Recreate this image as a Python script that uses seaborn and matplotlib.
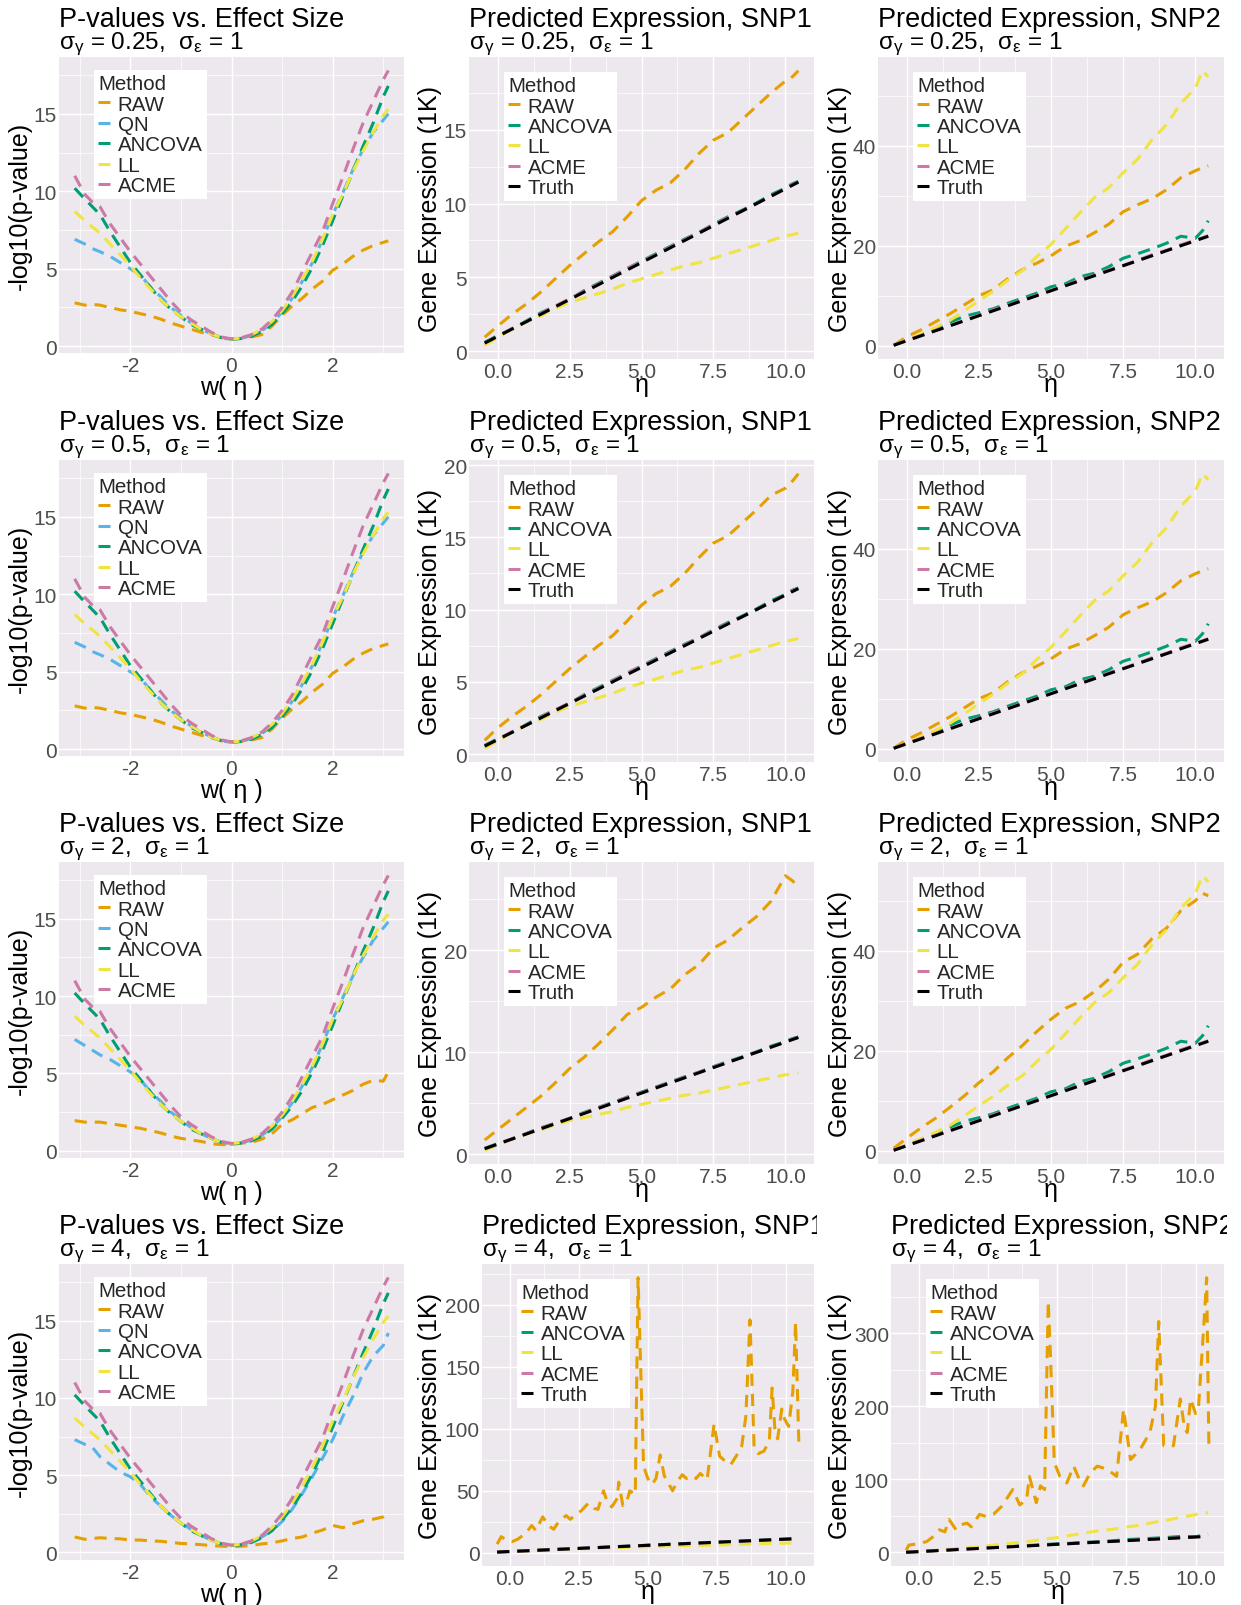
import numpy as np
import pandas as pd
import matplotlib
matplotlib.use("Agg")
import matplotlib.pyplot as plt
import seaborn as sns
from matplotlib.lines import Line2D
from matplotlib.ticker import FixedLocator, AutoMinorLocator, FixedFormatter
from matplotlib.transforms import Bbox, TransformedBbox

# ---------------------------------------------------------------- data
# effect-size grid for the p-value panels
W = [-3.1, -2.9, -2.75, -2.6, -2.4, -2.2, -2.0, -1.8, -1.6, -1.4, -1.2, -1.0,
     -0.8, -0.6, -0.4, -0.2, 0.0, 0.2, 0.4, 0.6, 0.8, 1.0, 1.2, 1.4, 1.6, 1.8,
     2.0, 2.2, 2.4, 2.6, 2.8, 3.0, 3.1]

ACME_P = [11.0, 9.8, 9.3, 9.0, 7.9, 7.0, 6.1, 5.3, 4.5, 3.7, 2.9, 2.2, 1.7, 1.3,
          0.9, 0.6, 0.47, 0.55, 0.75, 1.1, 1.7, 2.5, 3.5, 4.8, 6.1, 7.4, 9.2,
          10.9, 12.7, 14.4, 15.8, 17.2, 17.8]
ANCOVA_P = [10.2, 9.5, 9.0, 8.5, 7.4, 6.4, 5.4, 4.6, 3.8, 3.0, 2.4, 1.9, 1.4,
            1.1, 0.8, 0.55, 0.45, 0.5, 0.65, 0.95, 1.4, 2.1, 2.9, 3.9, 5.1, 6.5,
            8.1, 9.7, 11.3, 12.9, 14.4, 16.1, 16.8]
LL_P = [8.7, 8.1, 7.7, 7.3, 6.6, 5.9, 5.2, 4.4, 3.7, 3.0, 2.4, 1.9, 1.5, 1.1,
        0.8, 0.55, 0.45, 0.55, 0.75, 1.1, 1.6, 2.3, 3.2, 4.3, 5.5, 6.9, 8.5,
        9.8, 11.3, 12.6, 13.8, 14.9, 15.3]
QN_P1 = [6.9, 6.6, 6.3, 6.1, 5.8, 5.4, 5.0, 4.6, 3.8, 3.2, 2.5, 2.0, 1.5, 1.1,
         0.8, 0.55, 0.43, 0.5, 0.7, 1.0, 1.5, 2.2, 3.1, 4.2, 5.4, 6.9, 8.5,
         9.9, 11.4, 12.7, 13.8, 14.6, 15.0]
QN_P3 = [7.2, 6.8, 6.5, 6.2, 5.9, 5.5, 5.1, 4.6, 3.8, 3.2, 2.5, 2.0, 1.5, 1.1,
         0.8, 0.55, 0.43, 0.5, 0.7, 1.0, 1.5, 2.2, 3.1, 4.2, 5.4, 6.9, 8.5,
         9.9, 11.3, 12.5, 13.6, 14.4, 14.8]
QN_P4 = [7.3, 7.0, 6.8, 6.2, 5.7, 5.2, 4.9, 4.4, 3.6, 3.0, 2.4, 1.9, 1.5, 1.1,
         0.8, 0.55, 0.43, 0.5, 0.7, 1.0, 1.4, 2.0, 2.8, 3.8, 4.9, 6.1, 7.3,
         8.8, 10.1, 11.6, 12.7, 13.4, 14.2]
RAW_P1 = [2.8, 2.65, 2.7, 2.65, 2.5, 2.35, 2.25, 2.1, 1.95, 1.75, 1.5, 1.3,
          1.1, 0.9, 0.75, 0.55, 0.47, 0.5, 0.6, 0.75, 1.3, 2.0, 2.6, 3.1, 3.7,
          4.2, 4.9, 5.3, 5.8, 6.2, 6.5, 6.7, 6.8]
RAW_P3 = [1.95, 1.85, 1.85, 1.85, 1.75, 1.65, 1.55, 1.45, 1.3, 1.15, 0.95, 0.8,
          0.7, 0.6, 0.45, 0.4, 0.4, 0.5, 0.55, 0.75, 1.1, 1.7, 2.0, 2.4, 2.8,
          3.0, 3.3, 3.6, 3.9, 4.3, 4.55, 4.5, 5.1]
RAW_P4 = [1.0, 0.85, 0.9, 0.95, 0.9, 0.88, 0.8, 0.8, 0.75, 0.72, 0.65, 0.58,
          0.55, 0.5, 0.45, 0.4, 0.38, 0.4, 0.45, 0.55, 0.62, 0.75, 0.9, 1.0,
          1.25, 1.45, 1.75, 1.6, 1.85, 2.05, 2.15, 2.3, 2.5]

# eta grid for the predicted-expression panels
ETA = [-0.45, 0.0, 0.5, 1.0, 1.5, 2.0, 2.5, 3.0, 3.5, 4.0, 4.5, 5.0, 5.5, 6.0,
       6.5, 7.0, 7.5, 8.0, 8.5, 9.0, 9.5, 10.0, 10.25, 10.45]

# SNP1
TRUTH_1 = [0.55, 1.0, 1.5, 2.0, 2.5, 3.0, 3.5, 4.0, 4.5, 5.0, 5.5, 6.0, 6.5,
           7.0, 7.5, 8.0, 8.5, 9.0, 9.5, 10.0, 10.5, 11.0, 11.25, 11.45]
ANCOVA_1 = [0.6, 1.05, 1.5, 2.05, 2.6, 3.05, 3.5, 4.1, 4.6, 5.1, 5.6, 6.1, 6.6,
            7.1, 7.6, 8.05, 8.6, 9.1, 9.55, 10.05, 10.6, 11.05, 11.35, 11.5]
ACME_1 = [0.55, 1.0, 1.55, 2.0, 2.55, 3.05, 3.55, 4.05, 4.55, 5.05, 5.6, 6.05,
          6.55, 7.05, 7.55, 8.05, 8.55, 9.05, 9.5, 10.0, 10.5, 11.0, 11.3, 11.45]
LL_1 = [0.4, 0.9, 1.5, 2.0, 2.4, 2.9, 3.3, 3.6, 3.9, 4.2, 4.6, 4.9, 5.2, 5.5,
        5.8, 6.0, 6.3, 6.6, 6.9, 7.2, 7.5, 7.8, 7.9, 8.0]
RAW_1_A = [0.95, 1.7, 2.5, 3.2, 4.0, 4.9, 5.8, 6.6, 7.4, 8.1, 9.1, 10.2, 10.9,
           11.4, 12.3, 13.4, 14.3, 14.8, 15.7, 16.6, 17.5, 18.3, 18.6, 19.0]
RAW_1_B = [0.95, 1.8, 2.6, 3.3, 4.1, 5.0, 5.9, 6.7, 7.5, 8.2, 9.2, 10.3, 11.1,
           11.6, 12.5, 13.6, 14.6, 15.1, 16.0, 16.9, 17.9, 18.4, 18.9, 19.4]
RAW_1_C = [1.4, 2.4, 3.5, 4.6, 5.7, 7.0, 8.4, 9.5, 10.8, 12.2, 13.7, 14.4, 15.4,
           16.2, 17.6, 18.6, 20.2, 21.0, 22.2, 23.3, 24.8, 27.3, 26.8, 26.2]
RAW4_ETA1 = [-0.45, -0.3, -0.1, 0.1, 0.3, 0.6, 0.8, 0.95, 1.2, 1.4, 1.6, 1.8,
             2.05, 2.2, 2.4, 2.6, 2.85, 3.05, 3.2, 3.4, 3.55, 3.7, 3.9, 3.95,
             4.1, 4.25, 4.35, 4.55, 4.65, 4.85, 5.0, 5.15, 5.3, 5.45, 5.6, 5.75,
             5.9, 6.05, 6.25, 6.4, 6.6, 6.75, 6.9, 7.05, 7.15, 7.4, 7.6, 7.8,
             8.0, 8.2, 8.4, 8.55, 8.7, 8.85, 9.0, 9.2, 9.4, 9.5, 9.6, 9.7, 9.85,
             9.95, 10.1, 10.25, 10.35, 10.47]
RAW4_1 = [7, 13, 10, 9, 11, 16, 22, 18, 29, 22, 19, 26, 30, 27, 31, 34, 40, 36,
          35, 50, 40, 37, 44, 57, 38, 42, 50, 47, 222, 70, 60, 55, 60, 79, 62,
          56, 50, 57, 63, 60, 62, 60, 64, 61, 59, 104, 78, 74, 71, 78, 86, 110,
          188, 84, 80, 82, 90, 133, 100, 92, 116, 108, 102, 130, 186, 86]

# SNP2
TRUTH_2 = [0.1, 1.0, 2.0, 3.0, 4.0, 5.0, 6.0, 7.0, 8.0, 9.0, 10.0, 11.0, 12.0,
           13.0, 14.0, 15.0, 16.0, 17.0, 18.0, 19.0, 20.0, 21.0, 21.5, 21.9]
ACME_2 = [0.1, 1.1, 2.1, 3.1, 4.1, 5.1, 6.1, 7.2, 8.1, 9.1, 10.1, 11.1, 12.1,
          13.2, 14.1, 15.2, 16.1, 17.1, 18.2, 19.1, 20.2, 21.1, 21.6, 22.0]
ANCOVA_2 = [0.1, 1.1, 2.2, 3.3, 4.7, 5.9, 6.6, 7.4, 8.5, 9.5, 10.5, 11.8, 12.4,
            13.8, 14.5, 15.8, 17.5, 18.4, 19.4, 20.5, 21.9, 21.5, 23.0, 25.0]
LL_2 = [0.1, 1.2, 2.4, 3.7, 5.1, 7.0, 9.0, 10.9, 13.1, 15.0, 17.8, 20.3, 23.4,
        26.6, 29.6, 31.6, 34.6, 37.3, 41.2, 44.2, 48.5, 51.5, 55.0, 53.8]
RAW_2_A = [0.1, 1.8, 3.2, 4.8, 6.4, 8.2, 10.0, 11.2, 13.4, 15.2, 16.5, 18.0,
           19.9, 21.0, 22.6, 24.3, 26.8, 28.2, 29.4, 31.2, 33.6, 35.0, 35.6, 36.0]
RAW_2_C = [0.5, 2.5, 4.6, 6.5, 8.7, 11.0, 13.6, 15.8, 18.6, 21.0, 23.8, 26.3,
           28.5, 29.8, 31.8, 34.3, 37.7, 39.3, 42.4, 44.5, 48.0, 50.0, 51.5, 51.0]
RAW4_ETA2 = [-0.45, -0.35, 0.05, 0.3, 0.55, 0.75, 0.95, 1.1, 1.35, 1.55, 1.75,
             1.9, 2.2, 2.45, 2.7, 3.0, 3.4, 3.65, 3.9, 4.0, 4.25, 4.4, 4.55,
             4.68, 4.75, 4.9, 5.1, 5.35, 5.6, 5.8, 5.95, 6.2, 6.45, 6.8, 7.15,
             7.4, 7.65, 8.0, 8.35, 8.55, 8.67, 8.85, 9.2, 9.45, 9.6, 9.7, 9.82,
             10.0, 10.1, 10.3, 10.4, 10.48]
RAW4_2 = [3, 10, 12, 15, 22, 31, 28, 45, 31, 38, 40, 35, 52, 49, 52, 63, 86, 65,
          72, 104, 68, 91, 86, 344, 280, 123, 104, 95, 118, 100, 91, 109, 118,
          114, 104, 196, 127, 141, 164, 200, 316, 146, 146, 210, 170, 164, 210,
          190, 195, 312, 376, 146]

SIGMA_GAMMA = ["0.25", "0.5", "2", "4"]
SIGMA_EPS = "1"
TITLES = ["P-values vs. Effect Size", "Predicted Expression, SNP1",
          "Predicted Expression, SNP2"]
XLABELS = ["w( η )", "η", "η"]
YLABELS = ["-log10(p-value)", "Gene Expression (1K)", "Gene Expression (1K)"]

METHODS_P = ["RAW", "QN", "ANCOVA", "LL", "ACME"]
METHODS_E = ["RAW", "ANCOVA", "LL", "ACME", "Truth"]
COLORS = {"RAW": "#E69F00", "QN": "#56B4E9", "ANCOVA": "#009E73",
          "LL": "#F0E442", "ACME": "#CC79A7", "Truth": "#000000"}

# series for each panel: (row, col) -> {method: (x, y)}
PANELS = {
    (0, 0): {"RAW": (W, RAW_P1), "QN": (W, QN_P1), "ANCOVA": (W, ANCOVA_P),
             "LL": (W, LL_P), "ACME": (W, ACME_P)},
    (1, 0): {"RAW": (W, RAW_P1), "QN": (W, QN_P1), "ANCOVA": (W, ANCOVA_P),
             "LL": (W, LL_P), "ACME": (W, ACME_P)},
    (2, 0): {"RAW": (W, RAW_P3), "QN": (W, QN_P3), "ANCOVA": (W, ANCOVA_P),
             "LL": (W, LL_P), "ACME": (W, ACME_P)},
    (3, 0): {"RAW": (W, RAW_P4), "QN": (W, QN_P4), "ANCOVA": (W, ANCOVA_P),
             "LL": (W, LL_P), "ACME": (W, ACME_P)},
    (0, 1): {"RAW": (ETA, RAW_1_A), "ANCOVA": (ETA, ANCOVA_1), "LL": (ETA, LL_1),
             "ACME": (ETA, ACME_1), "Truth": (ETA, TRUTH_1)},
    (1, 1): {"RAW": (ETA, RAW_1_B), "ANCOVA": (ETA, ANCOVA_1), "LL": (ETA, LL_1),
             "ACME": (ETA, ACME_1), "Truth": (ETA, TRUTH_1)},
    (2, 1): {"RAW": (ETA, RAW_1_C), "ANCOVA": (ETA, ANCOVA_1), "LL": (ETA, LL_1),
             "ACME": (ETA, ACME_1), "Truth": (ETA, TRUTH_1)},
    (3, 1): {"RAW": (RAW4_ETA1, RAW4_1), "ANCOVA": (ETA, ANCOVA_1),
             "LL": (ETA, LL_1), "ACME": (ETA, ACME_1), "Truth": (ETA, TRUTH_1)},
    (0, 2): {"RAW": (ETA, RAW_2_A), "ANCOVA": (ETA, ANCOVA_2), "LL": (ETA, LL_2),
             "ACME": (ETA, ACME_2), "Truth": (ETA, TRUTH_2)},
    (1, 2): {"RAW": (ETA, RAW_2_A), "ANCOVA": (ETA, ANCOVA_2), "LL": (ETA, LL_2),
             "ACME": (ETA, ACME_2), "Truth": (ETA, TRUTH_2)},
    (2, 2): {"RAW": (ETA, RAW_2_C), "ANCOVA": (ETA, ANCOVA_2), "LL": (ETA, LL_2),
             "ACME": (ETA, ACME_2), "Truth": (ETA, TRUTH_2)},
    (3, 2): {"RAW": (RAW4_ETA2, RAW4_2), "ANCOVA": (ETA, ANCOVA_2),
             "LL": (ETA, LL_2), "ACME": (ETA, ACME_2), "Truth": (ETA, TRUTH_2)},
}

Y_TICKS = {
    (0, 1): [0, 5, 10, 15], (1, 1): [0, 5, 10, 15, 20], (2, 1): [0, 10, 20],
    (3, 1): [0, 50, 100, 150, 200],
    (0, 2): [0, 20, 40], (1, 2): [0, 20, 40], (2, 2): [0, 20, 40],
    (3, 2): [0, 100, 200, 300],
}

# ---------------------------------------------------------------- style
sns.set_theme(style="darkgrid")
plt.rcParams["font.family"] = ["Liberation Sans", "DejaVu Sans"]
plt.rcParams["mathtext.fontset"] = "custom"
plt.rcParams["mathtext.rm"] = "Liberation Sans"
plt.rcParams["mathtext.it"] = "Liberation Sans:italic"
plt.rcParams["mathtext.bf"] = "Liberation Sans:bold"

PANEL_BG = "#EDE8ED"
TICK_COLOR = "#4D4D4D"
LW = 2.2
DASH = (4.0, 2.6)

FW, FH = 1241, 1606
ROW_TOP = [58, 461, 863, 1265]
CELL_LEFT = [0, 410, 820]
COL_LEFT = [[59] * 4, [469, 469, 469, 482], [878, 878, 878, 891]]
COL_RIGHT = [404, 814, 1224]
PANEL_H = [296, 302, 302]
XLAB_OFF = [41, 32, 32]

fig = plt.figure(figsize=(FW / 100, FH / 100), dpi=100)


def frac_rect(l, t, r, b):
    return [l / FW, 1 - b / FH, (r - l) / FW, (b - t) / FH]


for (row, col), series in PANELS.items():
    left = COL_LEFT[col][row]
    right = COL_RIGHT[col]
    top = ROW_TOP[row]
    bottom = top + PANEL_H[col]
    pw, ph = right - left, bottom - top
    ax = fig.add_axes(frac_rect(left, top, right, bottom))
    methods = METHODS_P if col == 0 else METHODS_E

    df = pd.concat([pd.DataFrame({"x": series[m][0], "y": series[m][1],
                                  "Method": m}) for m in methods],
                   ignore_index=True)
    sns.lineplot(data=df, x="x", y="y", hue="Method", style="Method",
                 hue_order=methods, style_order=methods, palette=COLORS,
                 dashes={m: DASH for m in methods}, estimator=None,
                 errorbar=None, linewidth=LW, legend=False, ax=ax)

    # ggplot-like 5% expansion
    xmin, xmax = df["x"].min(), df["x"].max()
    ymin, ymax = df["y"].min(), df["y"].max()
    ax.set_xlim(xmin - 0.05 * (xmax - xmin), xmax + 0.05 * (xmax - xmin))
    ax.set_ylim(ymin - 0.05 * (ymax - ymin), ymax + 0.05 * (ymax - ymin))

    if col == 0:
        xt, xl = [-2, 0, 2], ["-2", "0", "2"]
        yt = [0, 5, 10, 15]
    else:
        xt, xl = [0, 2.5, 5, 7.5, 10], ["0.0", "2.5", "5.0", "7.5", "10.0"]
        yt = Y_TICKS[(row, col)]
    ax.xaxis.set_major_locator(FixedLocator(xt))
    ax.xaxis.set_major_formatter(FixedFormatter(xl))
    ax.yaxis.set_major_locator(FixedLocator(yt))
    ax.yaxis.set_major_formatter(FixedFormatter([str(v) for v in yt]))
    ax.xaxis.set_minor_locator(AutoMinorLocator(2))
    ax.yaxis.set_minor_locator(AutoMinorLocator(2))

    ax.set_facecolor(PANEL_BG)
    ax.grid(which="major", color="white", linewidth=1.0)
    ax.grid(which="minor", color="white", linewidth=0.5)
    ax.set_axisbelow(True)
    for s in ax.spines.values():
        s.set_visible(False)
    ax.tick_params(axis="both", which="both", length=0, labelsize=15,
                   labelcolor=TICK_COLOR)
    ax.tick_params(axis="x", pad=2.0)
    ax.tick_params(axis="y", pad=1.5)

    ax.set_xlabel(XLABELS[col], fontsize=18, color="black", va="baseline")
    ax.xaxis.set_label_coords(0.5, -XLAB_OFF[col] / ph)
    ax.set_ylabel(YLABELS[col], fontsize=18, color="black", va="center")
    ax.yaxis.set_label_coords((CELL_LEFT[col] + 20 - left) / pw, 0.5)

    # legend
    handles = [Line2D([0], [0], color=COLORS[m], lw=LW, solid_capstyle="butt")
               for m in methods]
    leg_top = 13 if col == 0 else 15
    leg = ax.legend(handles, methods, title="Method", loc="upper left",
                    bbox_to_anchor=(35 / pw, 1 - leg_top / ph),
                    fontsize=14.8, title_fontsize=14.8, frameon=True,
                    fancybox=False, framealpha=1, borderpad=0.2,
                    handlelength=0.6, handletextpad=0.35, labelspacing=0.07,
                    borderaxespad=0)
    leg.get_frame().set_facecolor("white")
    leg.get_frame().set_edgecolor("none")
    leg._legend_box.align = "left"

    # titles, clipped to the cell
    clip = TransformedBbox(Bbox([[CELL_LEFT[col] / FW, 0],
                                 [(right + 3) / FW, 1]]), fig.transFigure)
    t1 = fig.text(left / FW, 1 - (top - 31) / FH, TITLES[col], fontsize=19.5,
                  ha="left", va="baseline", color="black")
    sub = (f"σ$_\\mathregular{{γ}}$ = {SIGMA_GAMMA[row]},  "
           f"σ$_\\mathregular{{ε}}$ = {SIGMA_EPS}")
    t2 = fig.text(left / FW, 1 - (top - 9) / FH, sub, fontsize=17.5,
                  ha="left", va="baseline", color="black")
    for t in (t1, t2):
        t.set_clip_box(clip)
        t.set_clip_on(True)

fig.savefig("out.png", dpi=100, facecolor="white")
